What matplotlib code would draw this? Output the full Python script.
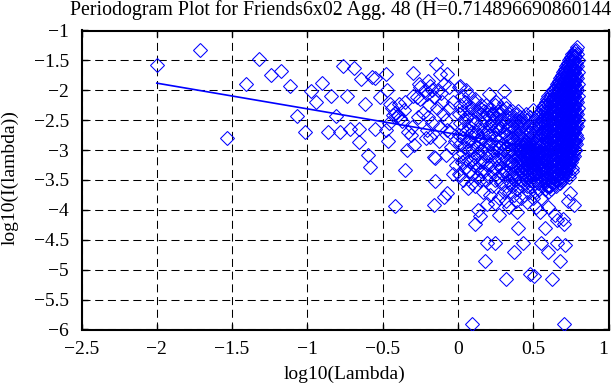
import matplotlib
matplotlib.use('Agg')
import matplotlib.pyplot as plt
import numpy as np
from matplotlib.ticker import FuncFormatter

plt.rcParams['font.family'] = ['Liberation Serif', 'DejaVu Serif']

# sparse low-frequency points (log10 lambda, log10 I)
low_x = [-2.00, -1.71, -1.537, -1.41, -1.32, -1.24, -1.172, -1.114, -1.068, -1.013,
         -0.979, -0.94, -0.902, -0.865, -0.842, -0.813, -0.785, -0.762, -0.74, -0.714,
         -0.692, -0.659, -0.659, -0.641, -0.614, -0.60, -0.581, -0.57, -0.548, -0.548,
         -0.519]
low_y = [-1.58, -1.32, -2.795, -1.895, -1.48, -1.75, -1.68, -1.92, -2.43, -2.69,
         -2.02, -2.19, -1.87, -2.69, -2.10, -2.43, -2.69, -1.60, -2.10, -2.65,
         -1.63, -2.65, -2.87, -1.81, -2.23, -3.08, -3.28, -1.77, -1.80, -2.65,
         -2.11]

mid_x = [-0.481, -0.481, -0.47, -0.448, -0.44, -0.43, -0.42, -0.415, -0.40, -0.393,
         -0.382, -0.37, -0.36, -0.35, -0.35, -0.337, -0.33, -0.304, -0.30, -0.298,
         -0.293, -0.271, -0.26, -0.25, -0.25, -0.232, -0.22, -0.205, -0.205, -0.20,
         -0.20, -0.19, -0.183, -0.183, -0.17, -0.16, -0.16, -0.156, -0.149, -0.149,
         -0.143, -0.14, -0.13, -0.116, -0.116, -0.11, -0.105, -0.10, -0.094, -0.09,
         -0.08, -0.076, -0.072, -0.072, -0.072, -0.06, -0.06, -0.05, -0.03, -0.02,
         -0.01, -0.035, -0.045, -0.125, -0.175, -0.215, -0.265, -0.31, -0.455, -0.465]
mid_y = [-2.67, -1.72, -2.00, -2.23, -2.30, -2.42, -2.38, -3.93, -2.42, -2.23,
         -2.46, -2.52, -2.33, -2.20, -3.33, -3.00, -2.70, -2.61, -2.10, -1.71,
         -2.92, -2.11, -1.89, -1.95, -2.15, -2.38, -2.00, -2.06, -2.67, -1.85,
         -2.45, -2.25, -1.92, -2.78, -2.00, -2.11, -3.11, -3.92, -3.13, -3.52,
         -1.56, -2.30, -2.00, -1.72, -2.61, -2.05, -2.19, -2.40, -1.89, -3.78,
         -2.50, -3.08, -1.72, -2.67, -3.72, -2.30, -1.95, -2.69, -2.20, -2.85,
         -3.25, -3.40, -2.95, -2.85, -2.55, -2.80, -2.45, -2.75, -2.55, -2.85]

# dense part, read column by column
m2_cols = [0.005, 0.017, 0.025, 0.035, 0.045, 0.055, 0.065, 0.073, 0.083, 0.092,
           0.100, 0.108, 0.116, 0.125, 0.135, 0.145, 0.155, 0.165, 0.175, 0.185,
           0.195, 0.205, 0.215, 0.225, 0.235, 0.245, 0.255, 0.265, 0.275, 0.285,
           0.295, 0.305]
m2_vals = [[-1.95, -2.4, -2.75, -3.1, -3.4],
           [-1.92, -2.25, -2.55, -2.9, -3.42],
           [-2.1, -2.65, -3.2],
           [-2.35, -2.8, -3.05, -3.5],
           [-2.2, -2.5, -2.95, -3.3],
           [-2.0, -2.45, -2.7, -3.15],
           [-2.3, -2.85, -3.64],
           [-2.08, -2.6, -3.0, -3.35],
           [-2.4, -2.83, -3.2],
           [-2.3, -2.7, -3.0, -3.55],
           [-2.5, -2.75, -3.15, -3.4],
           [-2.2, -2.9, -3.25],
           [-2.15, -2.55, -3.11, -3.6],
           [-2.35, -2.75, -2.95, -3.3],
           [-2.4, -2.65, -3.05, -3.45],
           [-2.3, -2.85, -3.2, -3.5],
           [-2.25, -2.55, -2.8, -3.0, -3.35],
           [-2.45, -2.7, -3.2, -3.7],
           [-2.35, -2.6, -2.95, -3.35],
           [-2.25, -2.5, -2.85, -3.1, -3.5],
           [-2.4, -2.7, -3.0, -3.25, -3.9],
           [-2.06, -2.45, -2.75, -3.1, -3.45],
           [-2.3, -2.6, -2.9, -3.25, -3.75],
           [-2.4, -2.55, -2.85, -3.05, -3.6],
           [-2.39, -2.7, -3.0, -3.35],
           [-2.25, -2.5, -2.8, -3.15, -3.5, -3.89],
           [-2.2, -2.45, -2.65, -2.95, -3.3],
           [-2.35, -2.6, -2.85, -3.15, -3.45],
           [-2.4, -2.65, -2.95, -3.25, -3.8],
           [-2.3, -2.5, -2.8, -3.05, -3.3, -3.55],
           [-2.35, -2.6, -2.9, -3.15, -3.4],
           [-2.01, -2.22, -2.45, -2.7, -3.0, -3.35, -3.7]]

m3_cols = [0.320, 0.330, 0.340, 0.350, 0.360, 0.370, 0.380, 0.390, 0.400, 0.410,
           0.420, 0.433, 0.440, 0.450, 0.460, 0.470, 0.480, 0.490, 0.500, 0.510,
           0.520, 0.530, 0.540, 0.550, 0.560]
m3_vals = [[-2.3, -2.55, -2.75, -2.95, -3.15, -3.35, -3.6, -3.85],
           [-2.45, -2.65, -2.85, -3.05, -3.25, -3.5],
           [-2.4, -2.6, -2.8, -3.0, -3.2, -3.4, -3.7],
           [-2.5, -2.7, -2.9, -3.1, -3.3, -3.55],
           [-2.35, -2.6, -2.8, -3.0, -3.2, -3.4, -3.6],
           [-2.45, -2.65, -2.85, -3.05, -3.25, -3.45, -3.75],
           [-2.5, -2.7, -2.9, -3.1, -3.3, -3.5],
           [-2.4, -2.6, -2.8, -3.0, -3.2, -3.4, -3.65],
           [-2.35, -2.55, -2.75, -2.95, -3.1, -3.25, -3.45],
           [-2.45, -2.65, -2.85, -3.0, -3.15, -3.3, -3.55],
           [-2.5, -2.7, -2.9, -3.05, -3.2, -3.35, -3.5, -3.8],
           [-2.44, -2.6, -2.8, -2.95, -3.1, -3.25, -3.4, -3.6],
           [-2.55, -2.75, -2.9, -3.0, -3.1, -3.2, -3.3, -3.45, -3.75],
           [-2.4, -2.65, -2.85, -2.95, -3.05, -3.15, -3.25, -3.35, -3.5],
           [-2.5, -2.7, -2.9, -3.0, -3.08, -3.16, -3.24, -3.32, -3.42, -3.6],
           [-2.6, -2.8, -2.95, -3.03, -3.11, -3.19, -3.27, -3.35, -3.45, -3.7],
           [-2.45, -2.7, -2.88, -2.98, -3.06, -3.14, -3.22, -3.3, -3.38, -3.5],
           [-2.55, -2.75, -2.92, -3.01, -3.09, -3.17, -3.25, -3.33, -3.42, -3.6],
           [-2.33, -2.6, -2.8, -2.95, -3.04, -3.12, -3.2, -3.28, -3.36, -3.45, -3.8],
           [-2.5, -2.7, -2.88, -2.98, -3.07, -3.15, -3.23, -3.31, -3.4, -3.55],
           [-2.45, -2.65, -2.85, -3.0, -3.1, -3.18, -3.26, -3.35, -3.5, -3.7],
           [-2.55, -2.75, -2.92, -3.05, -3.15, -3.25, -3.38, -3.55],
           [-2.4, -2.6, -2.8, -2.95, -3.1, -3.2, -3.3, -3.45, -3.65],
           [-2.35, -2.55, -2.75, -2.9, -3.05, -3.2, -3.35, -3.55, -3.8],
           [-2.3, -2.5, -2.7, -2.9, -3.1, -3.3, -3.5]]

spike_cols = [0.570, 0.580, 0.590, 0.600, 0.610, 0.620, 0.630, 0.640, 0.650, 0.660,
              0.670, 0.680, 0.690, 0.700, 0.710, 0.720, 0.730, 0.740, 0.750, 0.760,
              0.770, 0.780, 0.790, 0.796]
spike_vals = [[-2.25, -2.45, -2.65, -2.85, -3.05, -3.25, -3.45],
              [-2.3, -2.5, -2.7, -2.9, -3.1, -3.3, -3.5, -3.65],
              [-2.15, -2.35, -2.55, -2.75, -2.95, -3.15, -3.35, -3.6],
              [-2.1, -2.3, -2.5, -2.7, -2.9, -3.1, -3.3, -3.5, -3.7],
              [-2.2, -2.4, -2.6, -2.8, -3.0, -3.2, -3.4, -3.6],
              [-2.05, -2.25, -2.45, -2.65, -2.85, -3.05, -3.25, -3.45, -3.65],
              [-2.0, -2.15, -2.35, -2.55, -2.75, -2.95, -3.15, -3.35, -3.55],
              [-2.05, -2.25, -2.45, -2.65, -2.85, -3.05, -3.25, -3.45],
              [-1.95, -2.15, -2.35, -2.55, -2.75, -2.95, -3.15, -3.35, -3.6],
              [-1.9, -2.1, -2.3, -2.5, -2.7, -2.9, -3.1, -3.3, -3.5],
              [-1.85, -2.0, -2.2, -2.4, -2.6, -2.8, -3.0, -3.2, -3.4],
              [-1.8, -1.95, -2.15, -2.35, -2.55, -2.75, -2.95, -3.15, -3.35, -3.55],
              [-1.75, -1.9, -2.1, -2.3, -2.5, -2.7, -2.9, -3.1, -3.3, -3.5],
              [-1.7, -1.85, -2.05, -2.25, -2.45, -2.65, -2.85, -3.05, -3.25, -3.45],
              [-1.65, -1.8, -2.0, -2.2, -2.4, -2.6, -2.8, -3.0, -3.2, -3.4],
              [-1.6, -1.75, -1.95, -2.15, -2.35, -2.55, -2.75, -2.95, -3.15, -3.35],
              [-1.55, -1.7, -1.9, -2.1, -2.3, -2.5, -2.7, -2.9, -3.1, -3.3],
              [-1.5, -1.65, -1.85, -2.05, -2.25, -2.45, -2.65, -2.85, -3.05, -3.25, -3.45],
              [-1.45, -1.6, -1.8, -2.0, -2.2, -2.4, -2.6, -2.8, -3.0, -3.2],
              [-1.4, -1.55, -1.75, -1.95, -2.15, -2.35, -2.55, -2.75, -2.95, -3.15, -3.35],
              [-1.38, -1.5, -1.7, -1.9, -2.1, -2.3, -2.5, -2.7, -2.9, -3.1],
              [-1.35, -1.45, -1.65, -1.85, -2.05, -2.25, -2.45, -2.65, -2.85, -3.0],
              [-1.28, -1.4, -1.6, -1.8, -2.0, -2.2, -2.4, -2.6, -2.8],
              [-1.5, -1.7, -1.9, -2.1, -2.3, -2.5]]

# in-between columns of the spike (it is nearly solid in the picture)
spike2_cols = [0.575, 0.585, 0.595, 0.605, 0.615, 0.625, 0.635, 0.645, 0.655, 0.665,
               0.675, 0.685, 0.695, 0.705, 0.715, 0.725, 0.735, 0.745, 0.755, 0.765,
               0.775, 0.785]
spike2_vals = [[-2.35, -2.55, -2.75, -2.95, -3.15, -3.35, -3.55],
               [-2.2, -2.4, -2.6, -2.8, -3.0, -3.2, -3.4],
               [-2.25, -2.45, -2.65, -2.85, -3.05, -3.25, -3.45],
               [-2.2, -2.4, -2.6, -2.8, -3.0, -3.2, -3.4, -3.6],
               [-2.1, -2.3, -2.5, -2.7, -2.9, -3.1, -3.3, -3.5],
               [-2.15, -2.35, -2.55, -2.75, -2.95, -3.15, -3.35, -3.55],
               [-2.1, -2.25, -2.45, -2.65, -2.85, -3.05, -3.25, -3.45],
               [-1.98, -2.15, -2.35, -2.55, -2.75, -2.95, -3.15, -3.35, -3.55],
               [-2.05, -2.25, -2.45, -2.65, -2.85, -3.05, -3.25, -3.45],
               [-1.88, -2.0, -2.2, -2.4, -2.6, -2.8, -3.0, -3.2, -3.4],
               [-1.9, -2.1, -2.3, -2.5, -2.7, -2.9, -3.1, -3.3, -3.5],
               [-1.78, -2.05, -2.25, -2.45, -2.65, -2.85, -3.05, -3.25, -3.45],
               [-1.8, -2.0, -2.2, -2.4, -2.6, -2.8, -3.0, -3.2, -3.4],
               [-1.68, -1.95, -2.15, -2.35, -2.55, -2.75, -2.95, -3.15, -3.35],
               [-1.7, -1.9, -2.1, -2.3, -2.5, -2.7, -2.9, -3.1, -3.3],
               [-1.58, -1.85, -2.05, -2.25, -2.45, -2.65, -2.85, -3.05, -3.25],
               [-1.6, -1.8, -2.0, -2.2, -2.4, -2.6, -2.8, -3.0, -3.2, -3.4],
               [-1.48, -1.75, -1.95, -2.15, -2.35, -2.55, -2.75, -2.95, -3.15],
               [-1.5, -1.7, -1.9, -2.1, -2.3, -2.5, -2.7, -2.9, -3.1, -3.3],
               [-1.42, -1.65, -1.85, -2.05, -2.25, -2.45, -2.65, -2.85, -3.05],
               [-1.42, -1.6, -1.8, -2.0, -2.2, -2.4, -2.6, -2.8, -3.0],
               [-1.32, -1.55, -1.75, -1.95, -2.15, -2.35, -2.55, -2.75, -2.9]]

out_x = [0.094, 0.116, 0.136, 0.145, 0.183, 0.190, 0.249, 0.276, 0.322, 0.371,
         0.395, 0.400, 0.430, 0.477, 0.505, 0.548, 0.550, 0.581, 0.597, 0.625,
         0.647, 0.659, 0.659, 0.681, 0.697, 0.703, 0.714, 0.707, 0.747, 0.769,
         0.730, 0.600, 0.520, 0.340, 0.459, 0.385]
out_y = [-5.90, -4.23, -4.00, -4.10, -4.86, -4.56, -4.55, -4.08, -5.16, -4.70,
         -4.04, -4.31, -4.55, -5.08, -5.10, -4.03, -4.55, -4.30, -4.70, -5.16,
         -4.08, -4.17, -4.55, -4.86, -4.15, -4.24, -4.58, -5.90, -3.72, -3.92,
         -3.85, -3.95, -3.95, -3.95, -3.86, -3.85]

# least squares fit shown as line
fit_slope = -0.4298
fit_intercept = -2.74
fit_range = [-2.0, 0.797]

# the title runs off the right edge in the picture; this is the visible part
title = 'Periodogram Plot for Friends6x02 Agg. 48 (H=0.714896690860144'


def expand(cols, vals):
    xs = np.repeat(cols, [len(v) for v in vals])
    ys = np.concatenate([np.array(v) for v in vals])
    return xs, ys


xs = [np.array(low_x), np.array(mid_x), np.array(out_x)]
ys = [np.array(low_y), np.array(mid_y), np.array(out_y)]
for c, v in ((m2_cols, m2_vals), (m3_cols, m3_vals), (spike_cols, spike_vals),
             (spike2_cols, spike2_vals)):
    a, b = expand(c, v)
    xs.append(a)
    ys.append(b)
x = np.concatenate(xs)
y = np.concatenate(ys)

blue = '#0000ff'
fs = 14

fig = plt.figure(figsize=(6.11, 3.85), dpi=100)
ax = fig.add_axes([81.5 / 611, 1 - 329.5 / 385, 527 / 611, 299 / 385])

ax.plot(x, y, linestyle='none', marker='D', ms=7, mfc='none', mec=blue, mew=0.75, zorder=3)
fx = np.array(fit_range)
ax.plot(fx, fit_intercept + fit_slope * fx, color=blue, lw=1.2, zorder=4)

ax.set_xlim(-2.5, 1)
ax.set_ylim(-6, -1)
ax.set_xticks(np.arange(-2.5, 1.01, 0.5))
ax.set_yticks(np.arange(-6, -0.99, 0.5))
fmt = FuncFormatter(lambda v, p: ('%g' % round(v, 2)).replace('-', '\u2212'))
ax.xaxis.set_major_formatter(fmt)
ax.yaxis.set_major_formatter(fmt)

ax.grid(True, color='black', linestyle=(0, (7.7, 4.5)), linewidth=0.75, zorder=1)
ax.set_axisbelow(True)
ax.tick_params(direction='in', length=4.5, width=1, top=True, right=True,
               labelsize=fs)
ax.tick_params(axis='x', pad=8)
ax.tick_params(axis='y', pad=9)
for s in ax.spines.values():
    s.set_linewidth(1.5)

# keep the last x label "1" inside the canvas
fig.canvas.draw()
ax.get_xticklabels()[-1].set_horizontalalignment('right')

fig.text(345 / 611, 1 - 374 / 385, 'log10(Lambda)', ha='center', va='center', fontsize=fs)
fig.text(10 / 611, 1 - 178 / 385, 'log10(I(lambda))', ha='center', va='center',
         rotation=90, fontsize=fs)
fig.text(70 / 611, 1 - 15 / 385, title, ha='left', va='baseline', fontsize=14.3)

fig.savefig('out.png', dpi=100)
